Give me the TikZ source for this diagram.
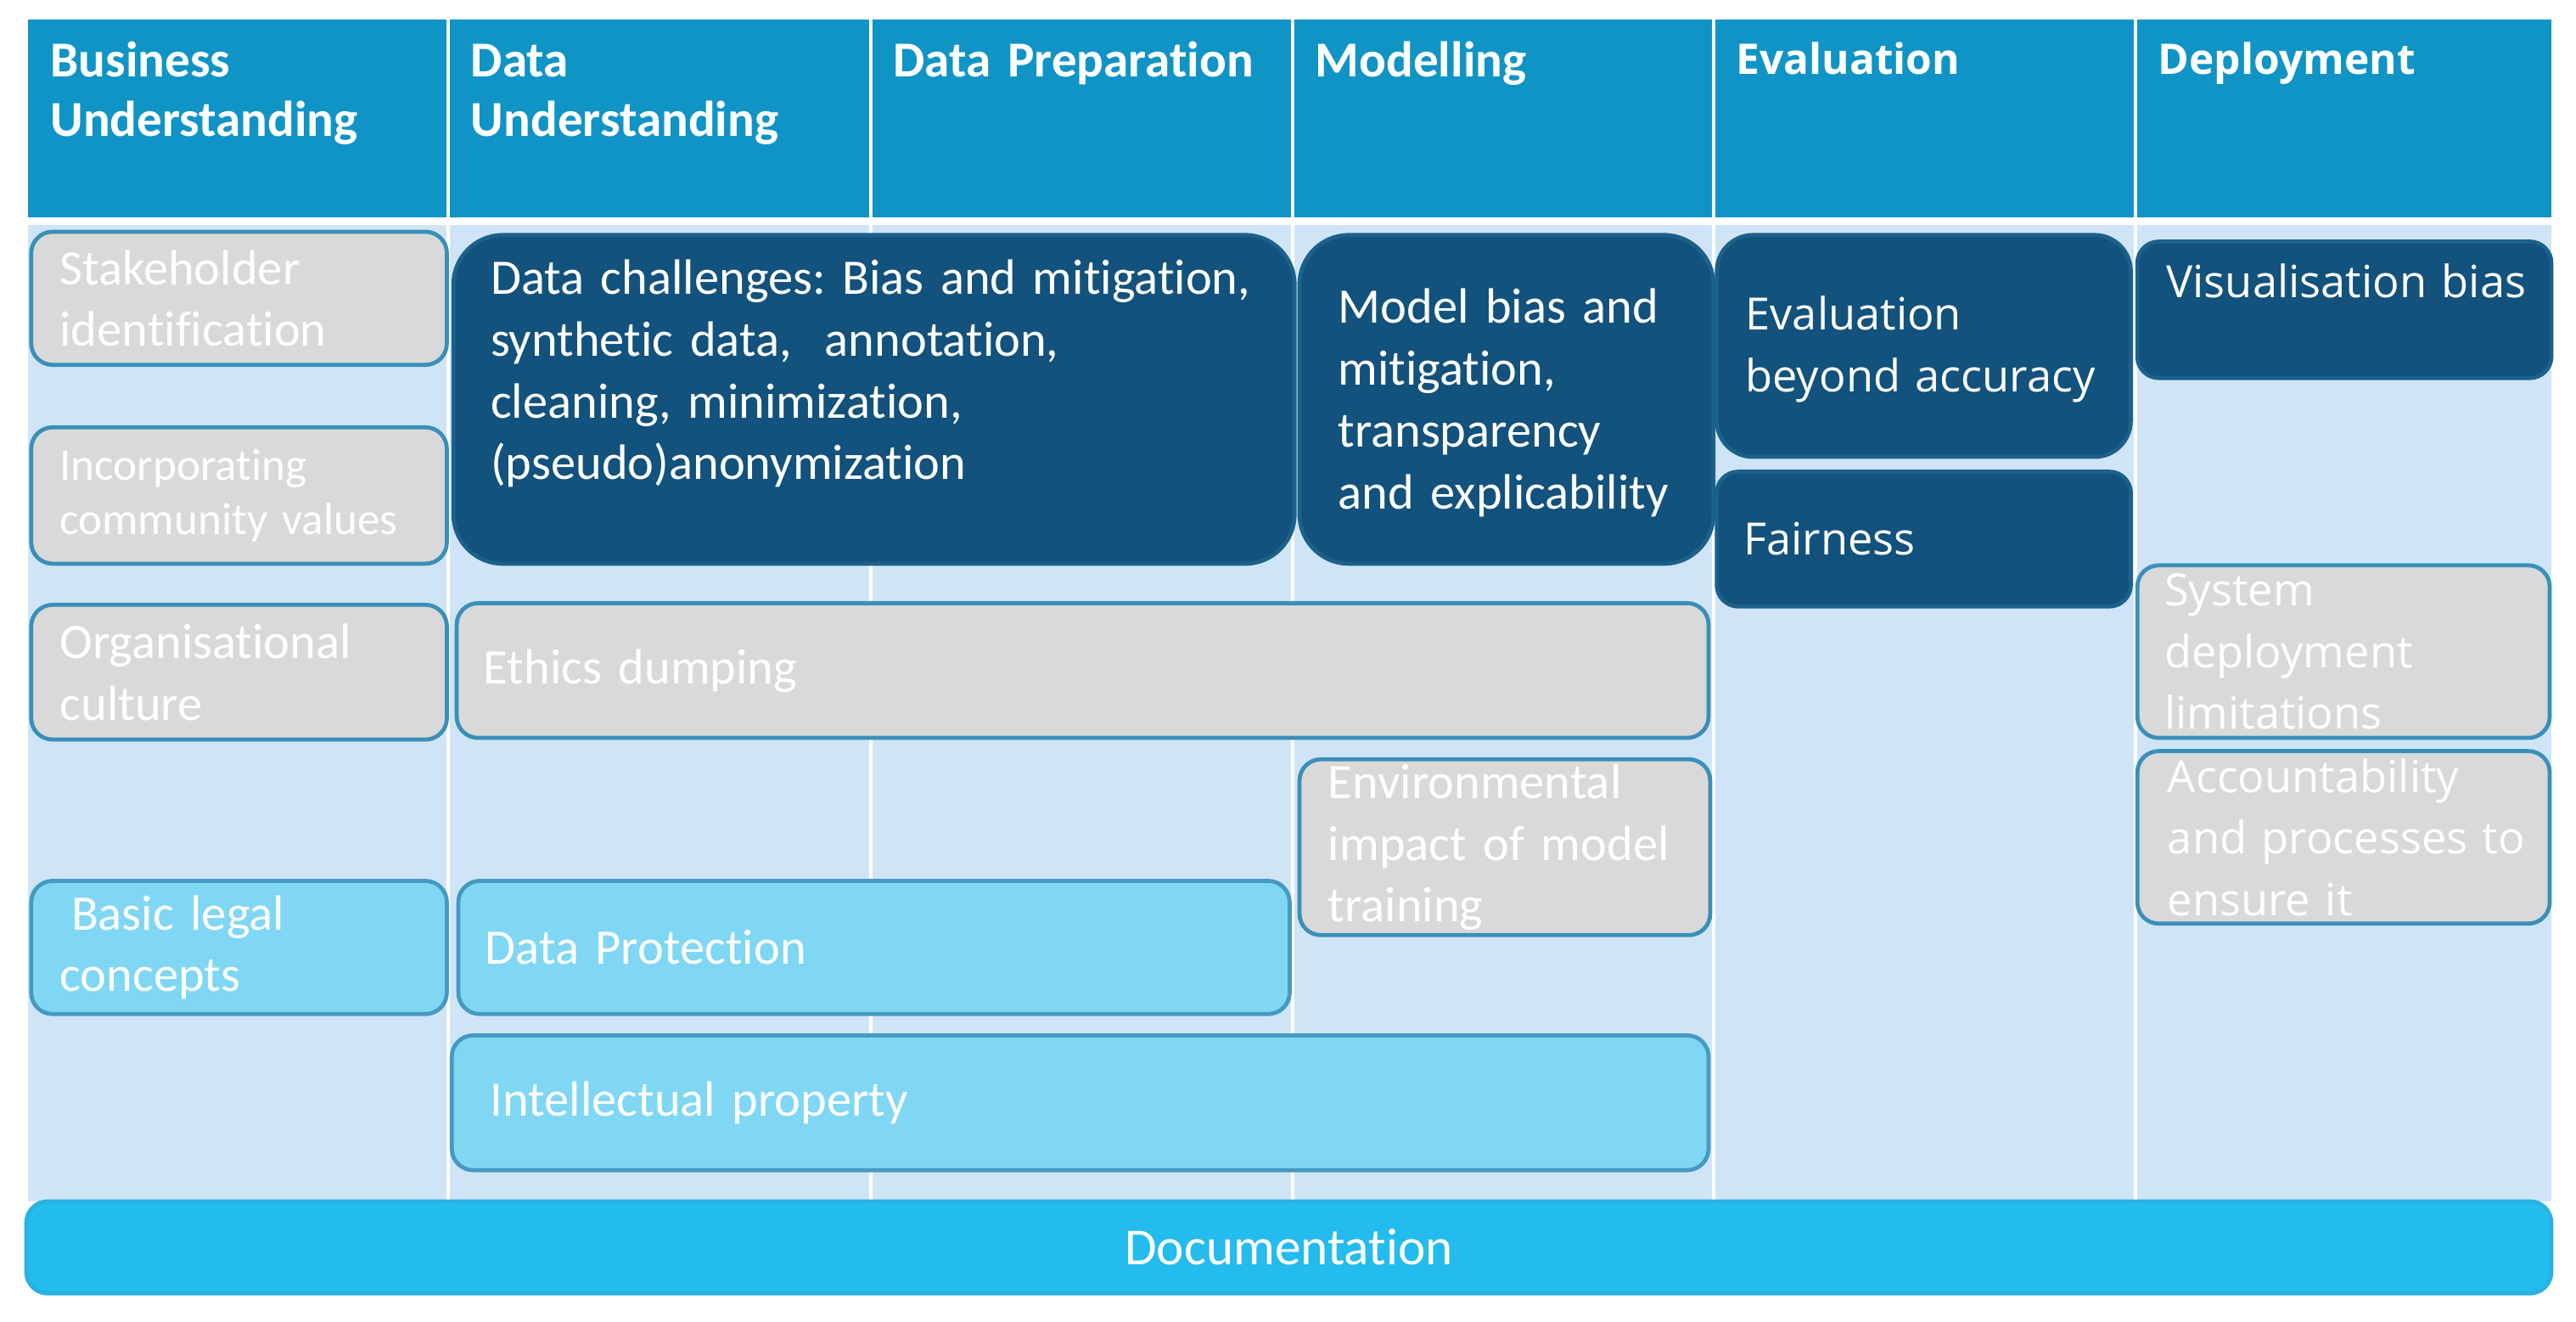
\documentclass[tikz,border=0pt]{standalone}
\usepackage{fontspec}
\setmainfont{Carlito}[Ligatures=NoCommon]
\newfontfamily\segoe{Open Sans}
\usetikzlibrary{positioning}
\frenchspacing

\definecolor{hdrblue}{HTML}{1094C6}
\definecolor{bodyblue}{HTML}{CFE5F7}
\definecolor{darkblue}{HTML}{12527C}
\definecolor{cellgrey}{HTML}{D9D9D9}
\definecolor{lightcyan}{HTML}{7FD7F4}
\definecolor{docblue}{HTML}{24BBED}
\definecolor{edgeblue}{HTML}{3A8FB8}

\begin{document}
\begin{tikzpicture}[x=0.1mm, y=-0.1mm,
    cellbox/.style={draw=edgeblue, line width=0.7pt, rounded corners=1.3mm,
      inner sep=0pt},
    greycell/.style={cellbox, fill=cellgrey},
    darkcell/.style={cellbox, fill=darkblue, draw=darkblue!75!edgeblue},
    lightcell/.style={cellbox, fill=lightcyan, draw=edgeblue!85!lightcyan},
    dims/.style 2 args={minimum width=#1mm, minimum height=#2mm},
    celltext/.style={text=white, inner sep=0pt, align=left, text width=50mm,
      font=\fontsize{8.6pt}{10.7pt}\selectfont},
    segoetext/.style={celltext, font=\segoe\fontsize{7.7pt}{10.7pt}\selectfont},
    headtext/.style={text=white, inner sep=0pt, align=left, text width=24mm,
      anchor=base west, font=\bfseries\fontsize{8.7pt}{10.2pt}\selectfont},
    segoehead/.style={headtext, font=\segoe\bfseries\fontsize{7.3pt}{10.2pt}\selectfont} ]
    \useasboundingbox (0,0) rectangle (1568,804);
    \fill[white] (0,0) rectangle (1568,804);

    % Phase header and body
    \fill[hdrblue] (17,12) rectangle (1553,132);
    \fill[bodyblue] (17,137) rectangle (1553,731);
    \foreach \x in {273,530,787,1043,1300}
      \draw[white, line width=0.6pt] (\x,12) -- (\x,731);

    % Phase names
    \node[headtext] (h-bu) at (30,47) {Business\\Understanding};
    \node[headtext] (h-du) at (286,47) {Data\\Understanding};
    \node[headtext] (h-dp) at (543,47) {Data Preparation};
    \node[headtext] (h-mo) at (800,47) {Modelling};
    \node[segoehead] (h-ev) at (1056,45) {Evaluation};
    \node[segoehead] (h-de) at (1313,45) {Deployment};

    % Business understanding
    \node[greycell, dims={25.3}{8.1}] (stake) at (145.5,181.5) {};
    \node[celltext, anchor=west] (stake-t) at ([xshift=1.8mm]stake.west)
    {Stakeholder\\identification};
    \node[greycell, dims={25.3}{8.3}] (community) at (145.5,301.5) {};
    \node[celltext, anchor=west, font=\fontsize{7.8pt}{9.4pt}\selectfont]
    (community-t) at ([xshift=1.8mm]community.west)
    {Incorporating\\community values};
    \node[greycell, dims={25.3}{8.2}] (orgcult) at (145.5,409) {};
    \node[celltext, anchor=west] (orgcult-t) at ([xshift=1.8mm]orgcult.west)
    {Organisational\\culture};
    \node[lightcell, dims={25.3}{8.1}] (legal) at (145.5,576.5) {};
    \node[celltext, anchor=west] (legal-t) at ([xshift=1.8mm]legal.west)
    {\hspace*{0.7mm}Basic legal\\concepts};

    % Dark cells
    \node[darkcell, rounded corners=3mm, dims={51.2}{20}] (datach) at (532,243) {};
    \node[celltext, anchor=base west] (datach-t) at (298,179)
    {Data challenges: Bias and mitigation,\\synthetic data,~ annotation,\\
      cleaning, minimization,\\(pseudo)anonymization};
    \node[darkcell, rounded corners=3mm, dims={25.2}{20}] (modelbias) at (917,243) {};
    \node[celltext, anchor=west] (modelbias-t) at ([xshift=2.4mm,yshift=-0.2mm]modelbias.west)
    {Model bias and\\mitigation,\\transparency\\and explicability};
    \node[darkcell, rounded corners=2.2mm, dims={25.2}{13.5}] (evalacc) at (1171,210.5) {};
    \node[segoetext, anchor=west] (evalacc-t) at ([xshift=1.8mm,yshift=-0.2mm]evalacc.west)
    {Evaluation\\beyond accuracy};
    \node[darkcell, dims={25.2}{8.2}] (fairness) at (1171,328) {};
    \node[segoetext, anchor=west] (fairness-t) at ([xshift=1.7mm]fairness.west)
    {Fairness};
    \node[darkcell, dims={25.2}{8.3}] (visbias) at (1427,188.5) {};
    \node[segoetext, anchor=base west] (visbias-t) at (1318,181)
    {Visualisation bias};

    % Grey cells
    \node[greycell, dims={76.2}{8.2}] (ethics) at (659,408) {};
    \node[celltext, anchor=west] (ethics-t) at ([xshift=1.7mm]ethics.west)
    {Ethics dumping};
    \node[greycell, dims={25}{10.7}] (envimpact) at (916,515.5) {};
    \node[celltext, anchor=west] (envimpact-t) at ([xshift=1.8mm]envimpact.west)
    {Environmental\\impact of model\\training};
    \node[greycell, dims={25.1}{10.5}] (sysdep) at (1426.5,396.5) {};
    \node[segoetext, anchor=west] (sysdep-t) at ([xshift=1.7mm]sysdep.west)
    {System\\deployment\\limitations};
    \node[greycell, dims={25.1}{10.5}] (account) at (1426.5,509.5) {};
    \node[segoetext, anchor=west] (account-t) at ([xshift=1.9mm]account.west)
    {Accountability\\and processes to\\ensure it};

    % Legal cells
    \node[lightcell, dims={50.6}{8.1}] (dataprot) at (532,576.5) {};
    \node[celltext, anchor=west] (dataprot-t) at ([xshift=1.7mm]dataprot.west)
    {Data Protection};
    \node[lightcell, dims={76.5}{8.2}] (intprop) at (657.5,671) {};
    \node[celltext, anchor=west] (intprop-t) at ([xshift=2.4mm]intprop.west)
    {Intellectual property};

    % Documentation bar
    \node[cellbox, fill=docblue, draw=docblue!80!edgeblue, dims={153.7}{5.6},
      text=white, font=\fontsize{9pt}{11pt}\selectfont] (doc) at (784.5,759)
    {Documentation};
\end{tikzpicture}
\end{document}
